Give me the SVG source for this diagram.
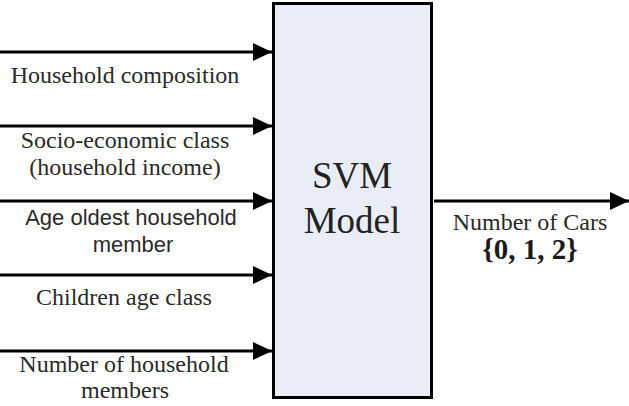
<svg xmlns="http://www.w3.org/2000/svg" width="629" height="406" viewBox="0 0 629 406">
<defs>
<style>
.t{font-family:"Liberation Serif","Times New Roman",serif;font-size:24px;fill:#2a2a2a}
.b{font-family:"Liberation Serif","Times New Roman",serif;font-size:29px;font-weight:bold;fill:#1a1a1a}
.s{font-family:"Liberation Sans",Arial,sans-serif;font-size:22px;fill:#2a2a2a}
.big{font-family:"Liberation Serif","Times New Roman",serif;font-size:37px;fill:#222}
.e{stroke:#000;stroke-width:3;fill:none}
</style>
<marker id="ah" markerWidth="20" markerHeight="18" refX="19" refY="9" orient="auto" markerUnits="userSpaceOnUse">
<path d="M0,0 L19,9 L0,18 Z" fill="#000"/>
</marker>
</defs>
<g id="connectors">
<line class="e" x1="0" y1="52" x2="272" y2="52" marker-end="url(#ah)"/>
<line class="e" x1="0" y1="126" x2="272" y2="126" marker-end="url(#ah)"/>
<line class="e" x1="0" y1="201" x2="272" y2="201" marker-end="url(#ah)"/>
<line class="e" x1="0" y1="275" x2="272" y2="275" marker-end="url(#ah)"/>
<line class="e" x1="0" y1="351" x2="272" y2="351" marker-end="url(#ah)"/>
<line class="e" x1="434" y1="201" x2="629" y2="201" marker-end="url(#ah)"/>
</g>
<g id="svm-model">
<rect x="273.5" y="3.5" width="158" height="394" fill="#e9edf8" stroke="#000" stroke-width="3"/>
<text class="big" x="352" y="188" text-anchor="middle">SVM</text>
<text class="big" x="352" y="233" text-anchor="middle">Model</text>
</g>
<g id="in-household-composition">
<text class="t" x="125" y="83" text-anchor="middle">Household composition</text>
</g>
<g id="in-socio-economic">
<text class="t" x="125" y="148" text-anchor="middle">Socio-economic class</text>
<text class="t" x="125" y="175" text-anchor="middle">(household income)</text>
</g>
<g id="in-age-oldest">
<text class="s" x="131" y="225" text-anchor="middle">Age oldest household</text>
<text class="s" x="133" y="252" text-anchor="middle">member</text>
</g>
<g id="in-children-age">
<text class="t" x="124" y="305" text-anchor="middle">Children age class</text>
</g>
<g id="in-number-members">
<text class="t" x="124" y="372" text-anchor="middle">Number of household</text>
<text class="t" x="125" y="398" text-anchor="middle">members</text>
</g>
<g id="out-number-of-cars">
<text class="t" x="530" y="230" text-anchor="middle">Number of Cars</text>
<text class="b" x="530" y="259" text-anchor="middle">{0, 1, 2}</text>
</g>
</svg>
